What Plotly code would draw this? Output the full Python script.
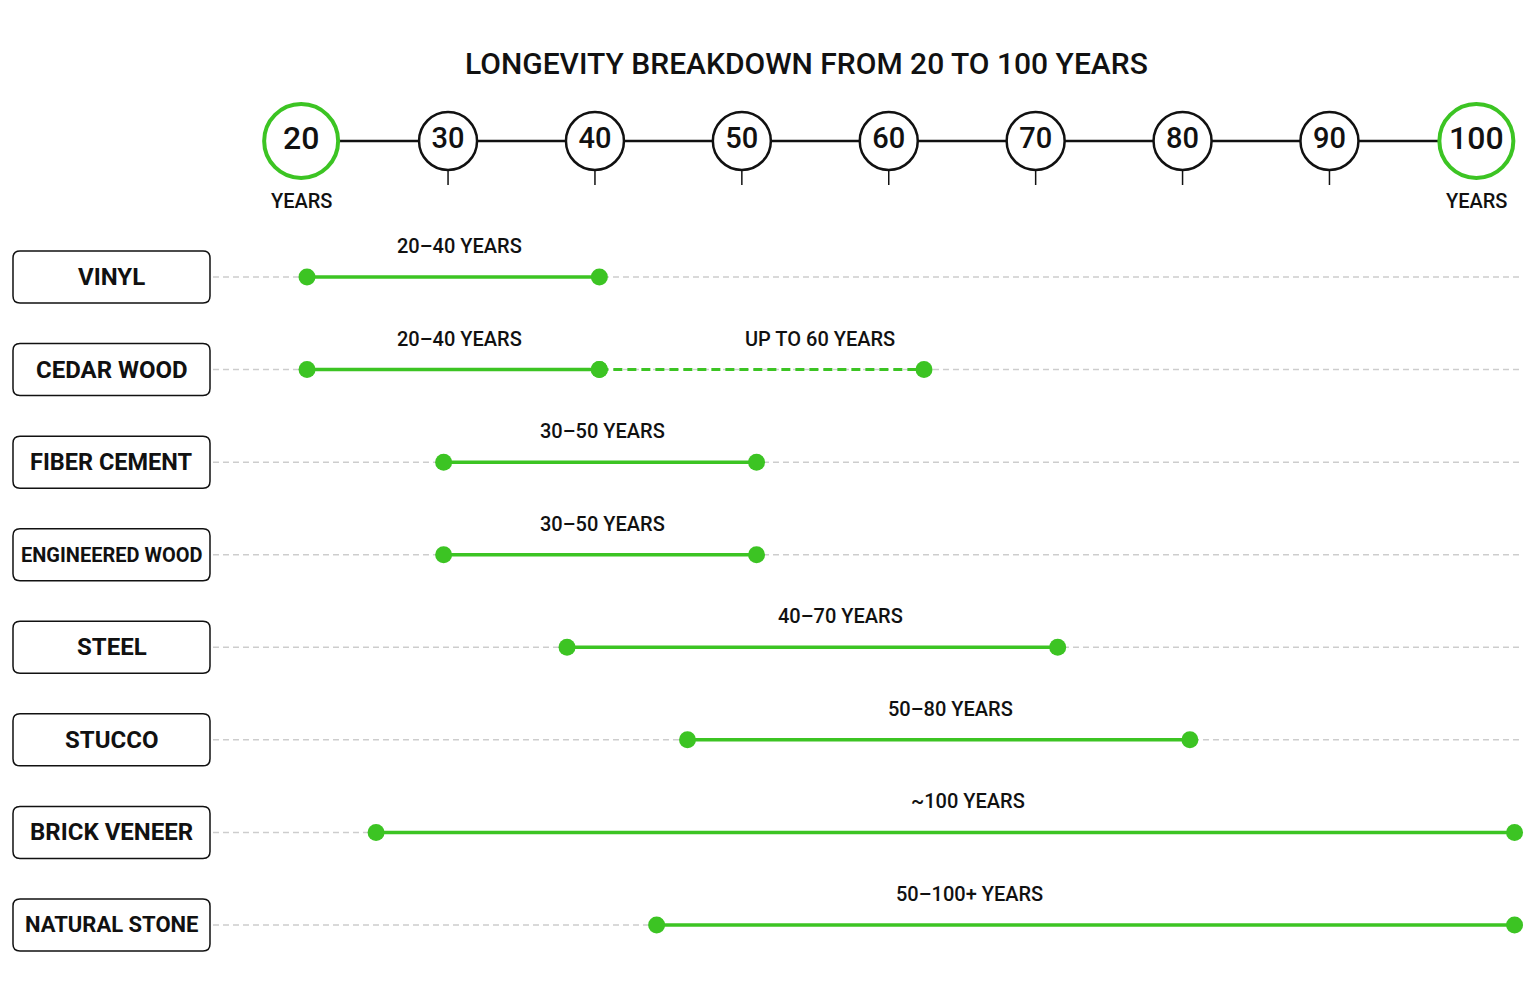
import plotly.graph_objects as go

# ---------------- data ----------------
materials = ["VINYL", "CEDAR WOOD", "FIBER CEMENT", "ENGINEERED WOOD",
             "STEEL", "STUCCO", "BRICK VENEER", "NATURAL STONE"]
range_start = [20.4, 20.4, 29.7, 29.7, 38.1, 46.3, 25.1, 44.2]
range_end = [40.3, 40.3, 51.0, 51.0, 71.5, 80.5, 102.6, 102.6]
range_labels = ["20–40 YEARS", "20–40 YEARS", "30–50 YEARS", "30–50 YEARS",
                "40–70 YEARS", "50–80 YEARS", "~100 YEARS", "50–100+ YEARS"]
cedar_ext_end = 62.4
cedar_ext_label = "UP TO 60 YEARS"
scale_ticks = [20, 30, 40, 50, 60, 70, 80, 90, 100]
scale_labels = ["20", "30", "40", "50", "60", "70", "80", "90", "100"]
title_text = "LONGEVITY BREAKDOWN FROM 20 TO 100 YEARS"

# ---------------- style / layout ----------------
W, H = 1536, 998
FONT = "Roboto"
GREEN = "#3cc423"
BLACK = "#111111"
GRAY = "#cdcdcd"
label_center = [30.8, 30.8, 40.5, 40.5, 56.7, 64.2, 65.4, 65.5]
ext_label_center = 55.3
box_font = {"VINYL": 24, "CEDAR WOOD": 24, "FIBER CEMENT": 23.5,
            "ENGINEERED WOOD": 20, "STEEL": 24, "STUCCO": 24,
            "BRICK VENEER": 24, "NATURAL STONE": 22}
X_RANGE = [-0.5, 104.06]
ROW0_PX, ROW_STEP = 277, 92.57
Y_RANGE = [(H - ROW0_PX) / ROW_STEP, -ROW0_PX / ROW_STEP]


def py_to_y(py):
    return (py - ROW0_PX) / ROW_STEP


def px_to_paper(px):
    return px / W


def py_to_paper(py):
    return 1 - py / H


SCALE_Y = py_to_y(141)
LABEL_DY = 31 / ROW_STEP

fig = go.Figure()
shapes = []
annotations = []

# guide dashed lines + label boxes
for i, name in enumerate(materials):
    shapes.append(dict(type="line", xref="paper", yref="y",
                       x0=px_to_paper(213), x1=px_to_paper(1520), y0=i, y1=i,
                       line=dict(color=GRAY, width=1.5, dash="6px,4px"), layer="below"))
    x0, x1 = 13, 210
    cy = ROW0_PX + i * ROW_STEP
    y0, y1 = cy - 26, cy + 26
    r = 7

    def P(px, py):
        return f"{px_to_paper(px):.5f},{py_to_paper(py):.5f}"
    path = (f"M {P(x0 + r, y0)} L {P(x1 - r, y0)} Q {P(x1, y0)} {P(x1, y0 + r)} "
            f"L {P(x1, y1 - r)} Q {P(x1, y1)} {P(x1 - r, y1)} "
            f"L {P(x0 + r, y1)} Q {P(x0, y1)} {P(x0, y1 - r)} "
            f"L {P(x0, y0 + r)} Q {P(x0, y0)} {P(x0 + r, y0)} Z")
    shapes.append(dict(type="path", xref="paper", yref="paper", path=path,
                       line=dict(color=BLACK, width=1.5), fillcolor="white"))
    annotations.append(dict(x=px_to_paper(111.5), y=i, xref="paper", yref="y",
                            xanchor="center", yanchor="middle",
                            text=f"<b>{name}</b>", showarrow=False,
                            font=dict(family=FONT, size=box_font[name], color=BLACK)))
    annotations.append(dict(x=label_center[i], y=i - LABEL_DY, xref="x", yref="y",
                            xanchor="center", yanchor="middle",
                            text=range_labels[i], showarrow=False,
                            font=dict(family=FONT, size=20, color=BLACK, weight=500)))

annotations.append(dict(x=ext_label_center, y=1 - LABEL_DY, xref="x", yref="y",
                        xanchor="center", yanchor="middle",
                        text=cedar_ext_label, showarrow=False,
                        font=dict(family=FONT, size=20, color=BLACK, weight=500)))

# range bars
for i in range(len(materials)):
    fig.add_trace(go.Scatter(x=[range_start[i], range_end[i]], y=[i, i],
                             mode="lines+markers",
                             line=dict(color=GREEN, width=3.5),
                             marker=dict(color=GREEN, size=17),
                             hoverinfo="skip", showlegend=False))
# cedar extension
fig.add_trace(go.Scatter(x=[range_end[1], cedar_ext_end], y=[1, 1], mode="lines",
                         line=dict(color=GREEN, width=3, dash="9px,5px"),
                         hoverinfo="skip", showlegend=False))
fig.add_trace(go.Scatter(x=[range_end[1], cedar_ext_end], y=[1, 1], mode="markers",
                         marker=dict(color=GREEN, size=17),
                         hoverinfo="skip", showlegend=False))

# scale: main line
fig.add_trace(go.Scatter(x=[scale_ticks[0], scale_ticks[-1]], y=[SCALE_Y, SCALE_Y],
                         mode="lines", line=dict(color=BLACK, width=2.5),
                         hoverinfo="skip", showlegend=False))
# scale: small stems under inner circles
stem_x, stem_y = [], []
for t in scale_ticks[1:-1]:
    stem_x += [t, t, None]
    stem_y += [py_to_y(171), py_to_y(185), None]
fig.add_trace(go.Scatter(x=stem_x, y=stem_y, mode="lines",
                         line=dict(color=BLACK, width=1.5),
                         hoverinfo="skip", showlegend=False))
# scale circles
inner = scale_ticks[1:-1]
fig.add_trace(go.Scatter(x=inner, y=[SCALE_Y] * len(inner), mode="markers+text",
                         marker=dict(size=58, color="white",
                                     line=dict(color=BLACK, width=2.5)),
                         text=scale_labels[1:-1], textposition="middle center",
                         textfont=dict(family=FONT, size=29, color=BLACK, weight=500),
                         hoverinfo="skip", showlegend=False))
ends = [scale_ticks[0], scale_ticks[-1]]
fig.add_trace(go.Scatter(x=ends, y=[SCALE_Y] * 2, mode="markers+text",
                         marker=dict(size=74, color="white",
                                     line=dict(color=GREEN, width=4)),
                         text=[scale_labels[0], scale_labels[-1]],
                         textposition="middle center",
                         textfont=dict(family=FONT, size=32, color=BLACK, weight=500),
                         hoverinfo="skip", showlegend=False))
for v in ends:
    annotations.append(dict(x=v, y=py_to_y(201), xref="x", yref="y", text="YEARS",
                            xanchor="center", yanchor="middle", showarrow=False,
                            font=dict(family=FONT, size=20, color=BLACK, weight=500)))

# title
annotations.append(dict(x=px_to_paper(806), y=py_to_paper(63), xref="paper", yref="paper",
                        xanchor="center", yanchor="middle",
                        text=title_text, showarrow=False,
                        font=dict(family=FONT, size=30, color=BLACK, weight=500)))

fig.update_layout(
    width=W, height=H,
    margin=dict(l=0, r=0, t=0, b=0),
    paper_bgcolor="white", plot_bgcolor="white",
    xaxis=dict(range=X_RANGE, visible=False, fixedrange=True),
    yaxis=dict(range=Y_RANGE, visible=False, fixedrange=True),
    shapes=shapes, annotations=annotations,
    showlegend=False,
)

fig.write_html("out.html", config={"displayModeBar": False},
               post_script="document.body.style.margin='0px';document.body.style.overflow='hidden';")
